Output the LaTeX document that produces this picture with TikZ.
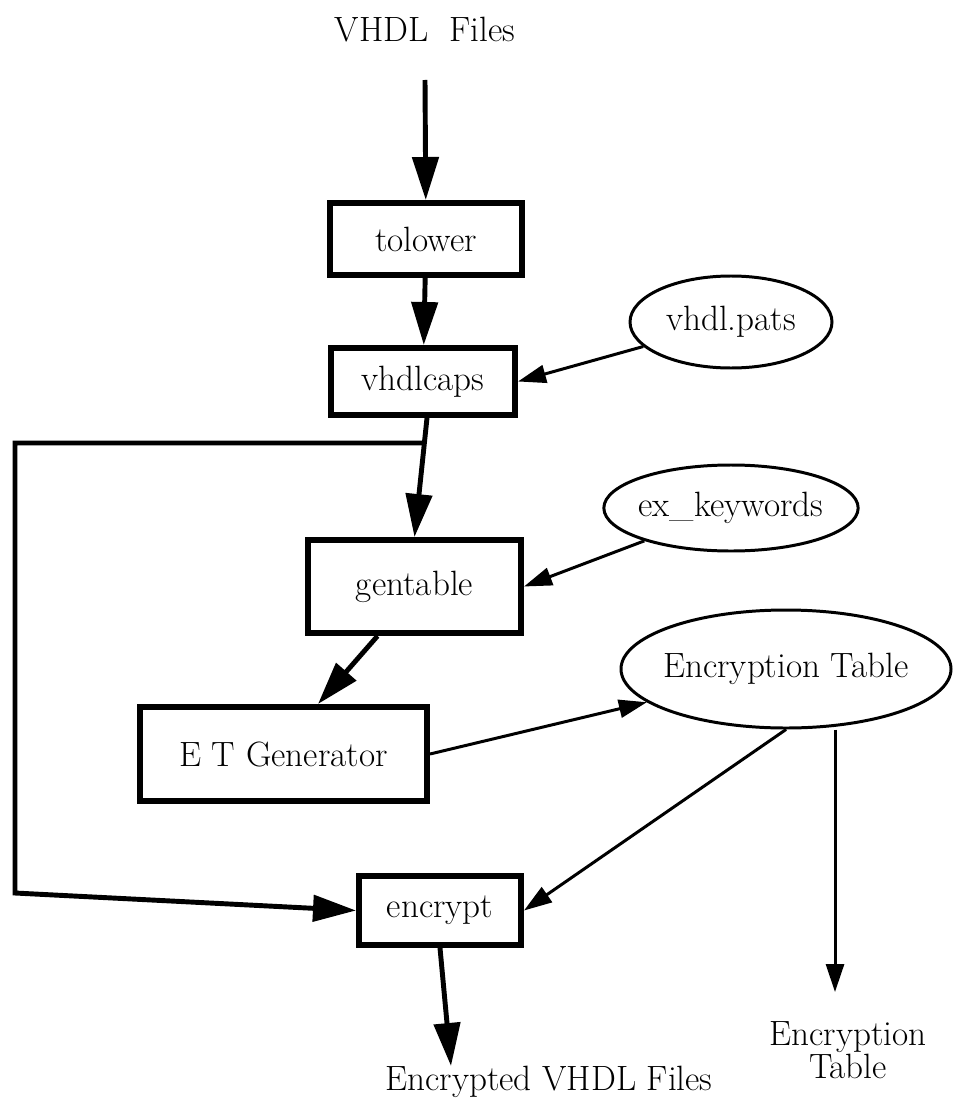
\documentclass[tikz,border=0pt]{standalone}
\usetikzlibrary{shapes,arrows.meta,positioning}

\begin{document}
\begin{tikzpicture}[x=0.2mm, y=-0.2mm, font=\fontsize{20}{19}\selectfont]
  \tikzstyle{process}=[rectangle, draw=black, fill=white, line width=3.4pt, inner sep=0pt, align=center]
  \tikzstyle{datafile}=[ellipse, draw=black, fill=white, line width=1.7pt, inner sep=0pt, align=center]
  \tikzstyle{line} = [draw, line width=2.8pt, -{Triangle[length=8.6mm, width=5.2mm]}]
  \tikzstyle{thinline} = [draw, line width=1.7pt, -{Triangle[length=5.6mm, width=3.6mm]}]

  \useasboundingbox (0,0) rectangle (953,1100);

  % processing steps
  \node [process, minimum width=38.4mm, minimum height=14.4mm] (tolower) at (426,239) {tolower};
  \node [process, minimum width=36.8mm, minimum height=13.4mm] (vhdlcaps) at (423,381.5) {vhdlcaps};
  \node [process, minimum width=42.6mm, minimum height=18.6mm] (gentable) at (414.5,586.5) {gentable};
  \node [process, minimum width=57.4mm, minimum height=18.8mm] (et_generator) at (283.5,754) {E T Generator};
  \node [process, minimum width=32.4mm, minimum height=13.8mm] (encrypt) at (440,910.5) {encrypt};

  % data files
  \node [datafile, minimum width=40.4mm, minimum height=18.4mm] (vhdl_pats) at (731,322) {vhdl.pats};
  \node [datafile, minimum width=49.6mm, minimum height=17.2mm, inner xsep=-0.5mm] (ex_keywords) at (731,508) {ex\_keywords};
  \node [datafile, minimum width=66mm, minimum height=23.6mm, inner xsep=-1.6mm] (enc_table) at (786,669) {Encryption Table};

  % inputs and outputs
  \node (vhdl_files) at (425,30) {VHDL\ \ Files};
  \node (encrypted_files) at (549,1082) {Encrypted VHDL Files};
  \node [align=center] (table_file) at (848,1050) {Encryption\\Table};
  \coordinate (vhdl_in) at (425,80);
  \coordinate (split) at (424.5,443);
  \coordinate (corner) at (15,893);
  \coordinate (encrypted_out) at (451,1066);
  \coordinate (table_out) at (835,992);

  \draw [line] (vhdl_in) -- (tolower);
  \draw [line] (tolower) -- (vhdlcaps);
  \draw [thinline] (vhdl_pats) -- (vhdlcaps.east);
  \draw [line] ([xshift=0.8mm]vhdlcaps.south) -- (gentable.north);
  \draw [line] (split) -| (corner) -- (encrypt.west);
  \draw [thinline] (ex_keywords) -- (gentable.east);
  \draw [line] ([xshift=-7.4mm]gentable.south) -- ([xshift=6.9mm]et_generator.north);
  \draw [thinline] (et_generator.east) -- (enc_table);
  \draw [thinline] (enc_table.south) -- (encrypt.east);
  \draw [thinline] (table_out |- enc_table.south) -- (table_out);
  \draw [line] (encrypt.south) -- (encrypted_out);
\end{tikzpicture}
\end{document}
